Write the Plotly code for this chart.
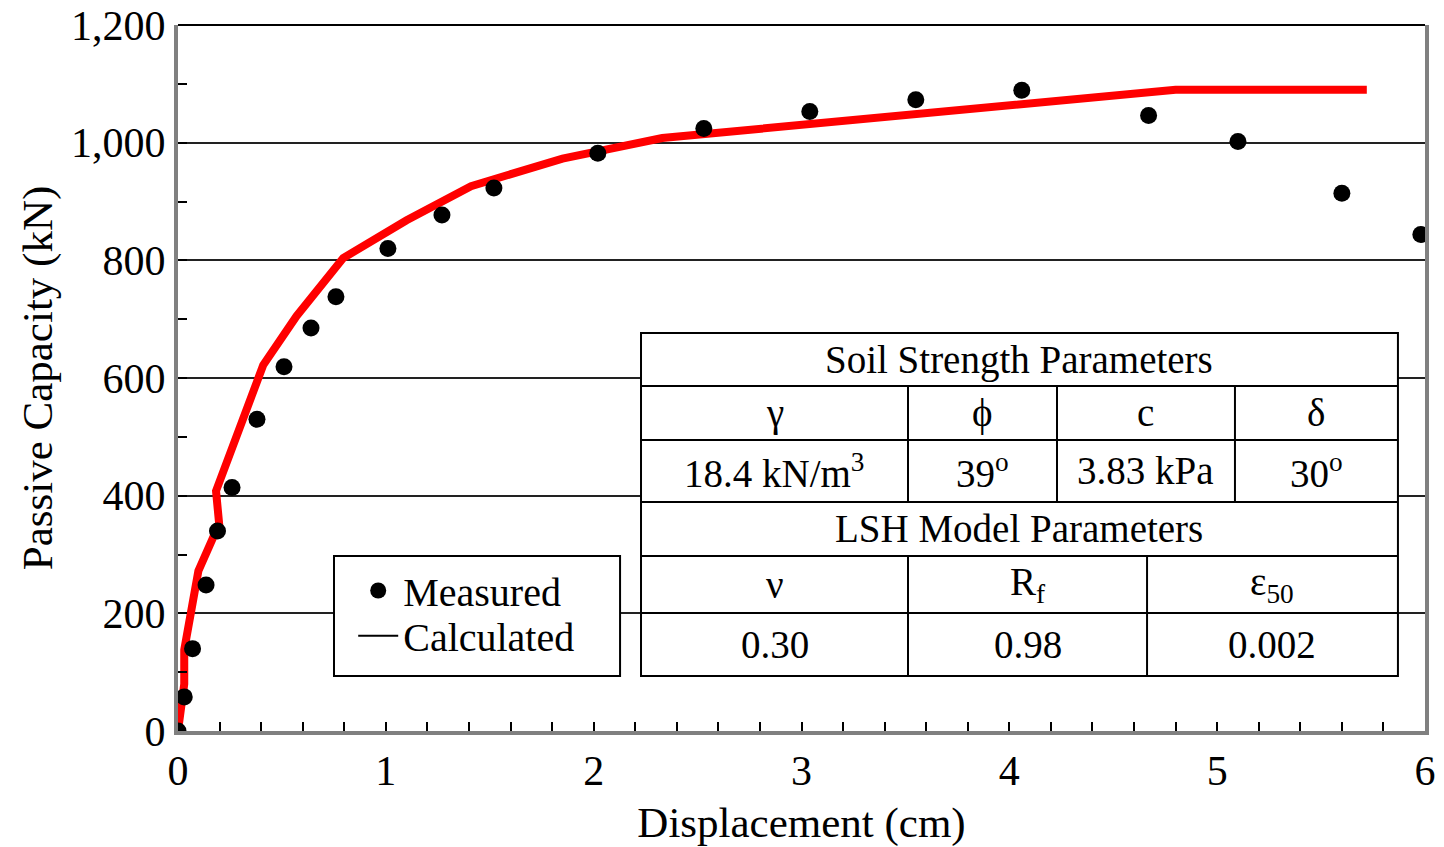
import plotly.graph_objects as go

# Measured load-displacement response
measured_disp = [0.0, 0.03, 0.07, 0.135, 0.19, 0.26, 0.38, 0.51, 0.64, 0.76,
                 1.01, 1.27, 1.52, 2.02, 2.53, 3.04, 3.55, 4.06, 4.67, 5.10,
                 5.60, 5.98]
measured_load = [0, 58, 140, 248, 340, 414, 530, 619, 685, 738,
                 820, 877, 923, 982, 1024, 1053, 1073, 1089, 1046, 1002,
                 914, 844]

# Calculated (LSH model) curve
calc_disp = [0.0, 0.03, 0.03, 0.098, 0.198, 0.183, 0.41, 0.57, 0.795,
             1.10, 1.41, 1.85, 2.33, 4.80, 5.72]
calc_load = [0, 80, 138, 272, 352, 408, 622, 705, 804,
             868, 926, 973, 1008, 1090, 1090]

x_ticks = [0, 1, 2, 3, 4, 5, 6]
y_ticks = [0, 200, 400, 600, 800, 1000, 1200]

# Parameter table contents
soil_title = "Soil Strength Parameters"
soil_symbols = ["γ", "ϕ", "c", "δ"]
soil_values = ["18.4 kN/m<sup>3</sup>", "39<sup>o</sup>", "3.83 kPa", "30<sup>o</sup>"]
lsh_title = "LSH Model Parameters"
lsh_symbols = ["ν", "R<sub>f</sub>", "ε<sub>50</sub>"]
lsh_values = ["0.30", "0.98", "0.002"]

FONT = "Liberation Serif"
TABLE_FS = 39
LEGEND_FS = 40
TICK_FS = 42
TITLE_FS = 43

fig = go.Figure()

fig.add_trace(go.Scatter(
    x=calc_disp, y=calc_load, mode="lines",
    line=dict(color="#ff0000", width=8), showlegend=False,
))
fig.add_trace(go.Scatter(
    x=measured_disp, y=measured_load, mode="markers", name="Measured",
    marker=dict(color="black", size=17), legend="legend",
))
# legend key for the calculated curve
fig.add_trace(go.Scatter(
    x=[None], y=[None], mode="lines", name="Calculated",
    line=dict(color="black", width=2), legend="legend2",
))

# ---- table geometry (paper coordinates of the plot area) ----
tx0, tx1 = 0.3713, 0.9783
row_y = [0.5637, 0.4887, 0.4122, 0.3244, 0.2479, 0.1671, 0.0779]
soil_cols = [tx0, 0.5854, 0.7049, 0.8476, tx1]
lsh_cols = [tx0, 0.5854, 0.7771, tx1]

# legend frame
lx0, lx1, ly0, ly1 = 0.1251, 0.3545, 0.0779, 0.2479

line_style = dict(color="black", width=2)
shapes = []
shapes.append(dict(type="rect", xref="paper", yref="paper",
                   x0=lx0, x1=lx1, y0=ly0, y1=ly1,
                   fillcolor="white", line=line_style, layer="above"))
shapes.append(dict(type="rect", xref="paper", yref="paper",
                   x0=tx0, x1=tx1, y0=row_y[-1], y1=row_y[0],
                   fillcolor="white", line=line_style, layer="above"))
for y in row_y[1:-1]:
    shapes.append(dict(type="line", xref="paper", yref="paper",
                       x0=tx0, x1=tx1, y0=y, y1=y,
                       line=line_style, layer="above"))
for x in soil_cols[1:-1]:
    shapes.append(dict(type="line", xref="paper", yref="paper",
                       x0=x, x1=x, y0=row_y[3], y1=row_y[1],
                       line=line_style, layer="above"))
for x in lsh_cols[1:-1]:
    shapes.append(dict(type="line", xref="paper", yref="paper",
                       x0=x, x1=x, y0=row_y[6], y1=row_y[4],
                       line=line_style, layer="above"))
# top frame line
shapes.append(dict(type="line", xref="paper", yref="paper",
                   x0=0, x1=1, y0=1, y1=1,
                   line=line_style, layer="above"))

annotations = []


def cell(text, xa, xb, ya, yb):
    annotations.append(dict(text=text, xref="paper", yref="paper",
                            x=(xa + xb) / 2, y=(ya + yb) / 2,
                            showarrow=False, xanchor="center", yanchor="middle",
                            font=dict(family=FONT, size=TABLE_FS, color="black")))


cell(soil_title, tx0, tx1, row_y[1], row_y[0])
for i, s in enumerate(soil_symbols):
    cell(s, soil_cols[i], soil_cols[i + 1], row_y[2], row_y[1])
for i, v in enumerate(soil_values):
    cell(v, soil_cols[i], soil_cols[i + 1], row_y[3], row_y[2])
cell(lsh_title, tx0, tx1, row_y[4], row_y[3])
for i, s in enumerate(lsh_symbols):
    cell(s, lsh_cols[i], lsh_cols[i + 1], row_y[5], row_y[4])
for i, v in enumerate(lsh_values):
    cell(v, lsh_cols[i], lsh_cols[i + 1], row_y[6], row_y[5])

legend_common = dict(xanchor="left", yanchor="middle",
                     bgcolor="rgba(0,0,0,0)", borderwidth=0,
                     font=dict(family=FONT, size=LEGEND_FS, color="black"),
                     itemwidth=40)

fig.update_layout(
    width=1444, height=847,
    margin=dict(l=178, r=19, t=25, b=116, autoexpand=False),
    paper_bgcolor="white", plot_bgcolor="white",
    font=dict(family=FONT, size=TICK_FS, color="black"),
    shapes=shapes, annotations=annotations,
    legend=dict(x=0.1405, y=0.199, **legend_common),
    legend2=dict(x=0.1405, y=0.135, **legend_common),
    xaxis=dict(
        range=[0, 6], tickvals=x_ticks, ticktext=[str(v) for v in x_ticks],
        showgrid=False, zeroline=False, automargin=False,
        showline=True, linecolor="#808080", linewidth=4, mirror=False,
        ticks="inside", ticklen=9, tickwidth=1.5, tickcolor="black",
        minor=dict(ticks="inside", ticklen=9, tickwidth=1.5, tickcolor="black",
                   dtick=0.2, showgrid=False),
        title=dict(text="Displacement (cm)", standoff=16,
                   font=dict(family=FONT, size=TITLE_FS)),
        tickfont=dict(family=FONT, size=TICK_FS),
    ),
    yaxis=dict(
        range=[0, 1200], tickvals=y_ticks, tickformat=",d",
        showgrid=True, gridcolor="#222222", gridwidth=1.5, zeroline=False,
        automargin=False,
        showline=True, linecolor="#808080", linewidth=4, mirror=True,
        ticks="inside", ticklen=9, tickwidth=1.5, tickcolor="black",
        minor=dict(ticks="inside", ticklen=9, tickwidth=1.5, tickcolor="black",
                   dtick=100, showgrid=False),
        title=dict(text="Passive Capacity (kN)", standoff=6,
                   font=dict(family=FONT, size=TITLE_FS)),
        tickfont=dict(family=FONT, size=TICK_FS),
    ),
)

fig.write_html("out.html")
